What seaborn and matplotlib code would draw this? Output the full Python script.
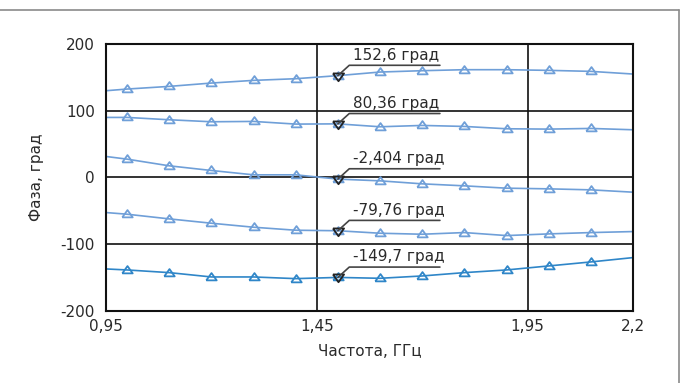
import matplotlib
matplotlib.use("Agg")
import matplotlib.pyplot as plt
from matplotlib.lines import Line2D
import numpy as np
import pandas as pd
import seaborn as sns

# Frequency grid, GHz (end points 0.95 and 2.2 carry no marker)
freq = [0.95, 1.0, 1.1, 1.2, 1.3, 1.4, 1.5, 1.6, 1.7, 1.8, 1.9, 2.0, 2.1, 2.2]

# Phase, degrees, for each of the five channels
phase_1 = [130, 132.5, 136.5, 141.5, 145.5, 148, 152.6, 158, 160, 161.5, 161.5, 160.5, 159, 155]
phase_2 = [90, 90, 86.5, 83.5, 84, 80, 80.36, 76, 78, 76.5, 73, 72.5, 73.5, 71.5]
phase_3 = [31.5, 27.5, 17.5, 10.5, 4, 4, -2.404, -5, -9.5, -12.5, -16, -17, -18.5, -22]
phase_4 = [-52.5, -55, -62, -68.5, -74.5, -79, -79.76, -83.5, -85, -82.5, -87, -84.5, -82.5, -81]
phase_5 = [-137, -138.5, -142.5, -149, -149, -151.5, -149.7, -151, -147.5, -142.5, -138.5, -132.5, -126.5, -120]

series_names = ["ch1", "ch2", "ch3", "ch4", "ch5"]
series_values = [phase_1, phase_2, phase_3, phase_4, phase_5]
series_colors = ["#6f9fd8", "#6f9fd8", "#6f9fd8", "#6f9fd8", "#2f86c8"]

# Marker readout at 1.5 GHz
marker_freq = 1.5
marker_labels = ["152,6 град", "80,36 град", "-2,404 град", "-79,76 град", "-149,7 град"]

x_ticks = [0.95, 1.45, 1.95, 2.2]
x_tick_labels = ["0,95", "1,45", "1,95", "2,2"]
y_ticks = [-200, -100, 0, 100, 200]
y_tick_labels = ["-200", "-100", "0", "100", "200"]

sns.set_theme(style="white")
plt.rcParams["font.family"] = ["DejaVu Sans"]

# Flattened triangles for the trace markers
tri_up = [(-1, -0.55), (1, -0.55), (0, 0.85), (-1, -0.55)]
tri_down = [(-1, 0.55), (1, 0.55), (0, -0.85), (-1, 0.55)]

fig = plt.figure(figsize=(6.82, 3.83), dpi=100)
ax = fig.add_axes([106 / 682, 1 - 311 / 383, 527 / 682, 267 / 383])

df = pd.DataFrame({
    "freq": freq * len(series_names),
    "phase": [v for vals in series_values for v in vals],
    "series": [n for n in series_names for _ in freq],
})

for name, color in zip(series_names, series_colors):
    sub = df[df["series"] == name]
    sns.lineplot(data=sub, x="freq", y="phase", ax=ax, color=color,
                 estimator=None, sort=False, linewidth=1.2,
                 marker=tri_up, markersize=7.5, markerfacecolor="none",
                 markeredgecolor=color, markeredgewidth=1.3,
                 markevery=list(range(1, len(freq) - 1)), legend=False)

# Marker callouts
idx = freq.index(marker_freq)
for vals, label in zip(series_values, marker_labels):
    y = vals[idx]
    ax.plot([marker_freq], [y], marker=tri_down, markersize=8, markerfacecolor="none",
            markeredgecolor="#222222", markeredgewidth=1.3, zorder=5)
    x1, y1 = marker_freq + 0.027, y + 15.5
    x2 = x1 + 0.215
    ax.plot([marker_freq, x1, x2], [y, y1, y1], color="#444444", linewidth=1.2, zorder=5)
    ax.text(x1 + 0.008, y1 + 4, label, fontsize=11, color="#2a2a2a",
            ha="left", va="bottom", zorder=6)

ax.set_xlim(0.95, 2.2)
ax.set_ylim(-200, 200)
ax.set_xticks(x_ticks)
ax.set_xticklabels(x_tick_labels)
ax.set_yticks(y_ticks)
ax.set_yticklabels(y_tick_labels)
ax.tick_params(axis="both", length=0, labelsize=11, colors="#2a2a2a")
ax.tick_params(axis="x", pad=6)
ax.tick_params(axis="y", pad=8)

for xv in [1.45, 1.95]:
    ax.axvline(xv, color="#111111", linewidth=1.2, zorder=1)
for yv in [-100, 0, 100]:
    ax.axhline(yv, color="#111111", linewidth=1.2, zorder=1)

for sp in ax.spines.values():
    sp.set_visible(True)
    sp.set_color("#111111")
    sp.set_linewidth(1.5)

ax.set_xlabel("Частота, ГГц", fontsize=11, color="#2a2a2a", labelpad=7)
ax.set_ylabel("Фаза, град", fontsize=11, color="#2a2a2a", labelpad=12)

# Outer frame: top and right edges
fig.add_artist(Line2D([0, 678.5 / 682], [1 - 9.5 / 383, 1 - 9.5 / 383],
                      transform=fig.transFigure, color="#8a8a8a", linewidth=1.2))
fig.add_artist(Line2D([678.5 / 682, 678.5 / 682], [1 - 9.5 / 383, 0],
                      transform=fig.transFigure, color="#8a8a8a", linewidth=1.2))

fig.savefig("out.png", dpi=100)
